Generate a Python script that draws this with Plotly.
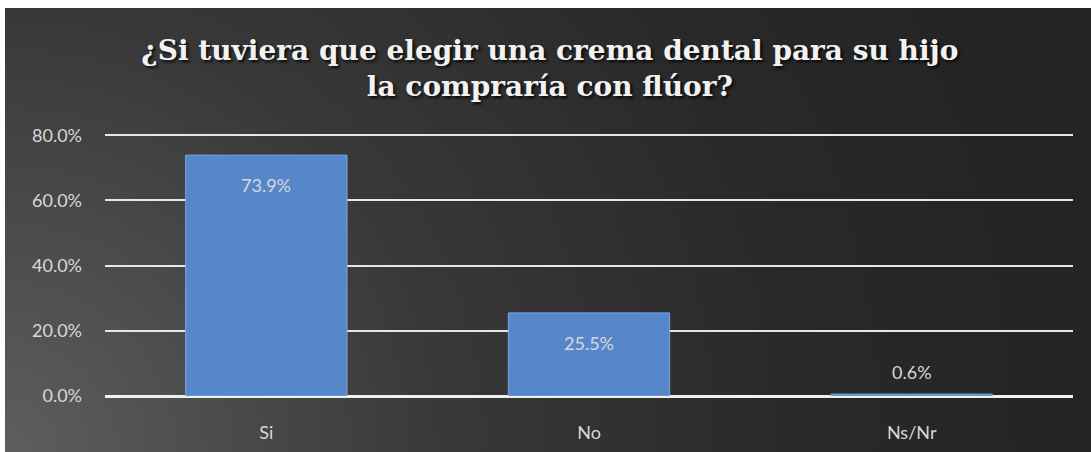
import base64
import plotly.graph_objects as go

# Survey answers and their shares
categories = ["Si", "No", "Ns/Nr"]
shares = [0.739, 0.255, 0.006]
y_ticks = [0.0, 0.2, 0.4, 0.6, 0.8]
y_tick_labels = ["0.0%", "20.0%", "40.0%", "60.0%", "80.0%"]

title_text = "¿Si tuviera que elegir una crema dental para su hijo<br>la compraría con flúor?"

W, H = 1091, 452
M_L, M_R, M_T, M_B = 105, 18, 132, 56
Y_MAX = 0.81
plot_w = W - M_L - M_R
plot_h = H - M_T - M_B

# Dark radial background panel, lighter toward the bottom-left corner
panel_svg = (
    '<svg xmlns="http://www.w3.org/2000/svg" width="1086" height="444" '
    'viewBox="0 0 1086 444" preserveAspectRatio="none">'
    '<defs><radialGradient id="g" gradientUnits="userSpaceOnUse" cx="0" cy="444" r="1050">'
    '<stop offset="0" stop-color="#5e5e5e"/>'
    '<stop offset="0.42" stop-color="#383838"/>'
    '<stop offset="0.75" stop-color="#292929"/>'
    '<stop offset="1" stop-color="#242424"/>'
    '</radialGradient></defs>'
    '<rect x="0" y="0" width="1086" height="444" fill="url(#g)"/></svg>'
)
panel_src = "data:image/svg+xml;base64," + base64.b64encode(panel_svg.encode()).decode()

# Panel position in paper fractions (panel spans x 5..1091, y 8..452 in pixels)
px0, px1, py0, py1 = 5, 1091, 8, 452
img_x = (px0 - M_L) / plot_w
img_w = (px1 - px0) / plot_w
img_y = (H - M_B - py0) / plot_h
img_h = (py1 - py0) / plot_h

fig = go.Figure()
fig.add_trace(go.Bar(
    x=categories,
    y=shares,
    marker=dict(color="#5787cb", line=dict(color="#7aa6e0", width=1)),
    hoverinfo="skip",
))

label_font = dict(family="Lato, Open Sans, sans-serif", size=18, color="#d8d8d8")
for cat, val in zip(categories, shares):
    inside = val > 0.05
    fig.add_annotation(
        x=cat, y=val, xref="x", yref="y",
        text=f"{val * 100:.1f}%",
        showarrow=False,
        yshift=-30 if inside else 22,
        font=label_font,
    )

tick_font = dict(family="Lato, Open Sans, sans-serif", size=18, color="#d8d8d8")

fig.update_layout(
    width=W, height=H,
    margin=dict(l=M_L, r=M_R, t=M_T, b=M_B, pad=0, autoexpand=False),
    paper_bgcolor="white",
    plot_bgcolor="rgba(0,0,0,0)",
    showlegend=False,
    bargap=0.5,
    title=dict(
        text=title_text,
        x=0.504, xref="container", xanchor="center",
        y=1 - 60 / H, yref="container", yanchor="top",
        automargin=False,
        font=dict(family="DejaVu Serif, Liberation Serif, serif", size=28,
                  color="#f2f2f2", weight="bold",
                  shadow="2px 2px 3px rgba(0,0,0,0.85)"),
    ),
    images=[dict(
        source=panel_src, xref="paper", yref="paper",
        x=img_x, y=img_y, sizex=img_w, sizey=img_h,
        xanchor="left", yanchor="top", sizing="stretch", layer="below",
    )],
    xaxis=dict(
        automargin=False,
        showgrid=False, showline=False, zeroline=False,
        ticks="", ticklabelstandoff=24,
        tickfont=tick_font,
    ),
    yaxis=dict(
        automargin=False,
        range=[0, Y_MAX],
        tickvals=y_ticks, ticktext=y_tick_labels,
        showgrid=True, gridcolor="#e6e6e6", gridwidth=2,
        zeroline=True, zerolinecolor="#f0f0f0", zerolinewidth=3,
        showline=False, ticks="", ticklabelstandoff=22,
        tickfont=tick_font,
    ),
)

fig.write_html("out.html")
